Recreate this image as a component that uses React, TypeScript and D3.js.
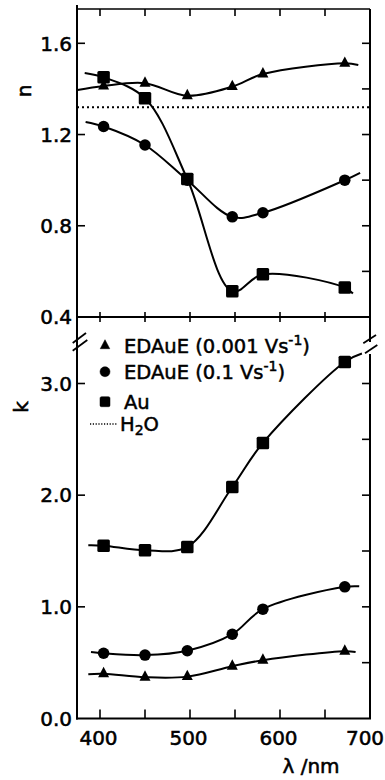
import React from 'react';
import * as d3 from 'd3';

// Wavelengths (nm) at which the optical constants were measured
const WAVELENGTHS = [404, 450, 497, 547, 581, 672];

// Refractive index n
const N_EDAUE_SLOW = [1.413, 1.425, 1.37, 1.41, 1.465, 1.512];
const N_EDAUE_FAST = [1.235, 1.154, 1.0, 0.839, 0.857, 1.0];
const N_AU = [1.451, 1.359, 1.005, 0.513, 0.587, 0.529];

// Extinction coefficient k
const K_EDAUE_SLOW = [0.4, 0.37, 0.375, 0.468, 0.522, 0.603];
const K_EDAUE_FAST = [0.584, 0.568, 0.607, 0.755, 0.979, 1.179];
const K_AU = [1.548, 1.507, 1.536, 2.073, 2.468, 3.193];

// Where the hand-drawn fitted curves start and end beyond the data points [nm, value]
const N_SLOW_ENDS = [[375, 1.395], [687, 1.505]];
const N_FAST_ENDS = [[384, 1.255], [689, 1.032]];
const N_AU_ENDS = [[383, 1.47], [681, 0.503]];
const K_SLOW_ENDS = [[387, 0.397], [684, 0.596]];
const K_FAST_ENDS = [[390, 0.596], [688, 1.184]];
const K_AU_ENDS = [[387, 1.551], [691, 3.268]];

const H2O_N = 1.32;

const X_TICKS = [400, 450, 500, 550, 600, 650];
const X_LABELS = [400, 500, 600, 700];
const N_TICKS = [0.6, 0.8, 1.0, 1.2, 1.4, 1.6];
const N_LABELS = [0.4, 0.8, 1.2, 1.6];
const K_TICKS = [0.5, 1.0, 1.5, 2.0, 2.5, 3.0];
const K_LABELS = [0.0, 1.0, 2.0, 3.0];

const LEGEND_LABELS = ['EDAuE (0.001 Vs', 'EDAuE (0.1 Vs', 'Au', 'H'];

const FONT = '"DejaVu Sans", sans-serif';

type Shape = 'tri' | 'circ' | 'sq';

function Marker({ shape, cx, cy, s }: { shape: Shape; cx: number; cy: number; s: number }) {
  if (shape === 'circ') return <circle cx={cx} cy={cy} r={s / 2} fill="#000" />;
  if (shape === 'sq')
    return <rect x={cx - s / 2} y={cy - s / 2} width={s} height={s} rx={1.5} fill="#000" />;
  const h = s * 0.95;
  return (
    <path
      d={`M${cx},${cy - (h * 2) / 3} L${cx + s / 2},${cy + h / 3} L${cx - s / 2},${cy + h / 3} Z`}
      fill="#000"
    />
  );
}

export default function App() {
  const W = 385;
  const H = 780;
  const top = 9;
  const mid = 317;
  const bottom = 718.5;

  const x = d3.scaleLinear().domain([400, 700]).range([100, 370]);
  const xMin = x.invert(77);
  const left = x(xMin);
  const right = x(700);
  const yn = d3.scaleLinear().domain([0.4, 1.6]).range([mid, 43.3]);
  const yk = d3.scaleLinear().domain([0, 3]).range([bottom, 383.5]);
  const fmt = d3.format('.1f');

  const series = [
    { shape: 'tri' as Shape, n: N_EDAUE_SLOW, k: K_EDAUE_SLOW, nEnds: N_SLOW_ENDS, kEnds: K_SLOW_ENDS, size: 11 },
    { shape: 'circ' as Shape, n: N_EDAUE_FAST, k: K_EDAUE_FAST, nEnds: N_FAST_ENDS, kEnds: K_FAST_ENDS, size: 11.5 },
    { shape: 'sq' as Shape, n: N_AU, k: K_AU, nEnds: N_AU_ENDS, kEnds: K_AU_ENDS, size: 12.5 },
  ];

  const lineN = d3
    .line<number[]>()
    .x((d) => x(d[0]))
    .y((d) => yn(d[1]))
    .curve(d3.curveCatmullRom.alpha(0.5));
  const lineK = d3
    .line<number[]>()
    .x((d) => x(d[0]))
    .y((d) => yk(d[1]))
    .curve(d3.curveCatmullRom.alpha(0.5));

  const knots = (vals: number[], ends: number[][]) => [
    ends[0],
    ...WAVELENGTHS.map((w, i) => [w, vals[i]]),
    ends[1],
  ];

  const legendY = [345.7, 371.7, 401.7, 424];
  const legendShapes: Shape[] = ['tri', 'circ', 'sq'];

  return (
    <svg
      width={W}
      height={H}
      viewBox={`0 0 ${W} ${H}`}
      style={{ position: 'absolute', left: 0, top: 0, background: '#fff' }}
      fontFamily={FONT}
    >
      <rect x={0} y={0} width={W} height={H} fill="#fff" />

      {/* frame */}
      <g stroke="#000" strokeWidth={2} fill="none">
        <line x1={left} y1={5} x2={left} y2={bottom + 1} />
        <line x1={left} y1={top} x2={right} y2={top} strokeWidth={1.5} />
        <line x1={left} y1={mid} x2={right} y2={mid} />
        <line x1={left - 1} y1={bottom} x2={right + 1} y2={bottom} />
        <line x1={right} y1={top} x2={right} y2={342} />
        <line x1={right} y1={354} x2={right} y2={bottom} />
      </g>

      {/* axis breaks */}
      <g stroke="#000" strokeWidth={1.8}>
        <line x1={left - 4.3} y1={343} x2={left + 9} y2={333} />
        <line x1={left - 4.3} y1={350.7} x2={left + 10.3} y2={340} />
        <line x1={right - 6.7} y1={343.3} x2={right + 6} y2={335} />
        <line x1={right - 5} y1={353.3} x2={right + 7.3} y2={345} />
      </g>

      {/* x ticks */}
      <g stroke="#000" strokeWidth={1.6}>
        {X_TICKS.map((v) => (
          <g key={v}>
            <line x1={x(v)} y1={top} x2={x(v)} y2={top + 7} />
            <line x1={x(v)} y1={mid - 5} x2={x(v)} y2={mid + 5} />
            <line x1={x(v)} y1={bottom} x2={x(v)} y2={bottom - 9} />
          </g>
        ))}
        {N_TICKS.map((v) => (
          <line key={'nr' + v} x1={right} y1={yn(v)} x2={right - 8} y2={yn(v)} />
        ))}
        {N_LABELS.filter((v) => v > 0.4).map((v) => (
          <line key={'nl' + v} x1={left} y1={yn(v)} x2={left + 8} y2={yn(v)} />
        ))}
        {K_TICKS.map((v) => (
          <line key={'kr' + v} x1={right} y1={yk(v)} x2={right - 8} y2={yk(v)} />
        ))}
        {K_LABELS.filter((v) => v > 0).map((v) => (
          <line key={'kl' + v} x1={left} y1={yk(v)} x2={left + 8} y2={yk(v)} />
        ))}
      </g>

      {/* tick labels */}
      <g fontSize={20} fill="#000" stroke="#000" strokeWidth={0.55}>
        {N_LABELS.map((v) => (
          <text key={'nt' + v} x={left - 5} y={yn(v)} dy="0.36em" textAnchor="end">
            {fmt(v)}
          </text>
        ))}
        {K_LABELS.map((v) => (
          <text key={'kt' + v} x={left - 5} y={yk(v)} dy="0.36em" textAnchor="end">
            {fmt(v)}
          </text>
        ))}
        {X_LABELS.map((v) => (
          <text key={'xt' + v} x={Math.min(x(v) - 1.5, 365)} y={745} textAnchor="middle">
            {v}
          </text>
        ))}
        <text x={311} y={773} textAnchor="middle">
          λ /nm
        </text>
        <text transform="translate(31,91) rotate(-90)" textAnchor="middle">
          n
        </text>
        <text transform="translate(28,407) rotate(-90)" textAnchor="middle">
          k
        </text>
      </g>

      {/* water line */}
      <line
        x1={left}
        x2={right}
        y1={yn(H2O_N)}
        y2={yn(H2O_N)}
        stroke="#000"
        strokeWidth={2}
        strokeDasharray="2,3"
      />

      {/* curves */}
      <g fill="none" stroke="#000" strokeWidth={2}>
        {series.map((s, i) => (
          <g key={i}>
            <path d={lineN(knots(s.n, s.nEnds)) || ''} />
            <path d={lineK(knots(s.k, s.kEnds)) || ''} />
          </g>
        ))}
      </g>

      {/* markers */}
      {series.map((s, i) => (
        <g key={'m' + i}>
          {WAVELENGTHS.map((w, j) => (
            <Marker key={'n' + j} shape={s.shape} cx={x(w)} cy={yn(s.n[j])} s={s.size} />
          ))}
          {WAVELENGTHS.map((w, j) => (
            <Marker key={'k' + j} shape={s.shape} cx={x(w)} cy={yk(s.k[j])} s={s.size} />
          ))}
        </g>
      ))}

      {/* legend */}
      <g fontSize={19.5} fill="#000" stroke="#000" strokeWidth={0.5}>
        {legendShapes.map((sh, i) => (
          <Marker key={sh} shape={sh} cx={105} cy={legendY[i]} s={sh === 'tri' ? 9.5 : 10} />
        ))}
        <text x={124} y={legendY[0] + 7}>
          {LEGEND_LABELS[0]}
          <tspan fontSize={14} dy={-7.5}>-1</tspan>
          <tspan dy={7.5}>)</tspan>
        </text>
        <text x={124} y={legendY[1] + 7}>
          {LEGEND_LABELS[1]}
          <tspan fontSize={14} dy={-7.5}>-1</tspan>
          <tspan dy={7.5}>)</tspan>
        </text>
        <text x={124} y={legendY[2] + 7}>
          {LEGEND_LABELS[2]}
        </text>
        <line
          x1={90}
          x2={118}
          y1={legendY[3]}
          y2={legendY[3]}
          stroke="#000"
          strokeWidth={1.3}
          strokeDasharray="1.2,1.6"
        />
        <text x={120} y={legendY[3] + 7}>
          {LEGEND_LABELS[3]}
          <tspan fontSize={14} dy={4}>2</tspan>
          <tspan dy={-4}>O</tspan>
        </text>
      </g>
    </svg>
  );
}
